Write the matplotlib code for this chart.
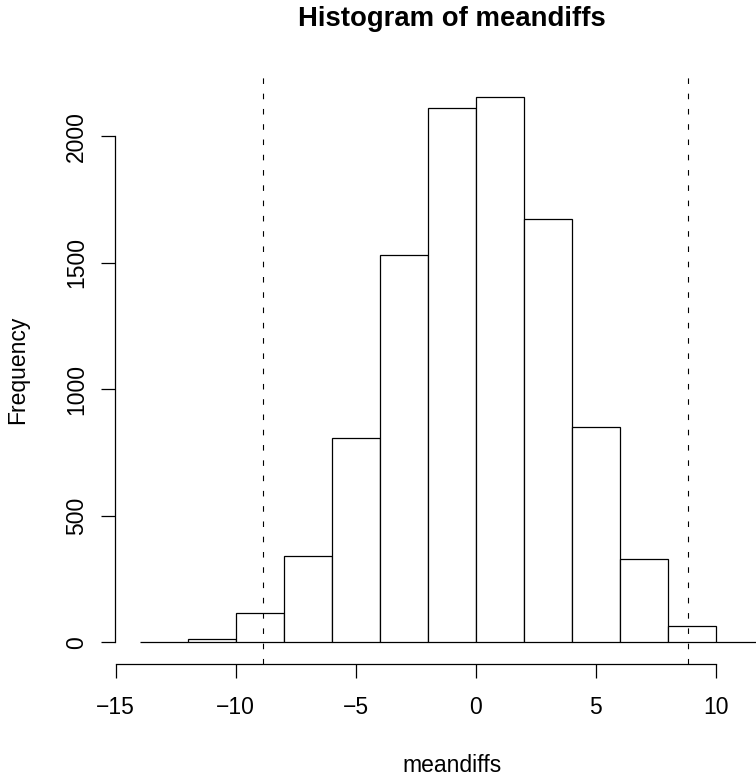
import matplotlib
matplotlib.use("Agg")
import matplotlib.pyplot as plt
import numpy as np

plt.rcParams['font.family'] = ['Liberation Sans', 'DejaVu Sans']
plt.rcParams['lines.scale_dashes'] = False

# histogram of meandiffs, bins of width 2
bin_edges = [-14, -12, -10, -8, -6, -4, -2, 0, 2, 4, 6, 8, 10, 12]
counts = [3, 13, 115, 341, 809, 1533, 2111, 2157, 1674, 853, 330, 66, 3]
cutoffs = [-8.86, 8.86]
xticks = [-15, -10, -5, 0, 5, 10]
yticks = [0, 500, 1000, 1500, 2000]

fig = plt.figure(figsize=(7.56, 7.76), dpi=100)
# plot region runs past the right edge of the figure, like the original
ax = fig.add_axes([114.7 / 756, 111.7 / 776, 674 / 756, 589.3 / 776])

left = np.array(bin_edges[:-1])
ax.bar(left, counts, width=np.diff(bin_edges), align='edge',
       facecolor='white', edgecolor='black', linewidth=0.9)

for c in cutoffs:
    ax.axvline(c, color='black', linewidth=0.8, linestyle=(0, (4, 7)))

ax.set_xlim(-15.04, 13.04)
ax.set_ylim(-86.3, 2243)

for s in ['top', 'right']:
    ax.spines[s].set_visible(False)
ax.spines['bottom'].set_bounds(-15, 10)
ax.spines['left'].set_bounds(0, 2000)
ax.spines['bottom'].set_linewidth(0.9)
ax.spines['left'].set_linewidth(0.9)

ax.set_xticks(xticks)
ax.set_yticks(yticks)
ax.set_yticklabels([str(v) for v in yticks], rotation=90, va='center')
ax.tick_params(axis='both', direction='out', length=10, width=0.9,
               labelsize=16.5)
ax.tick_params(axis='x', pad=13)
ax.tick_params(axis='y', pad=9)

ax.set_title('Histogram of meandiffs', fontsize=19.8, fontweight='bold', pad=35)
ax.set_xlabel('meandiffs', fontsize=16.5, va='center')
ax.set_ylabel('Frequency', fontsize=16.5, va='center')
ax.xaxis.set_label_coords(0.5, -0.171)
ax.yaxis.set_label_coords(-0.1435, 0.5)

fig.savefig('out.png', dpi=100)
